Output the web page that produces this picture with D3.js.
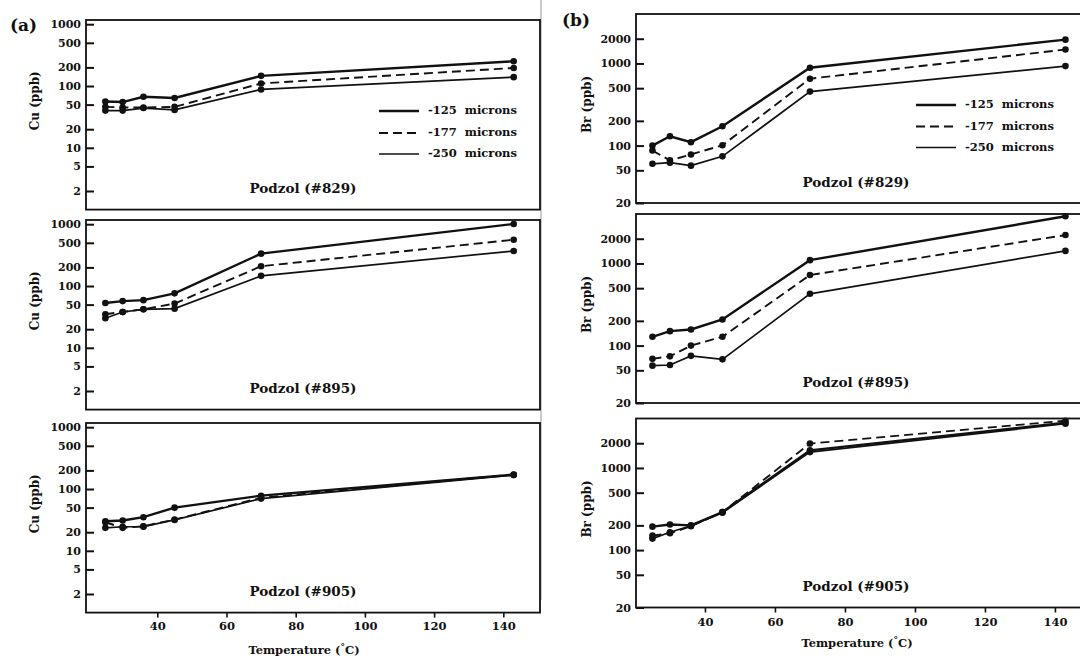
<!doctype html>
<html lang="en">
<head>
<meta charset="utf-8">
<title>Cu and Br vs temperature</title>
<script src="https://cdn.jsdelivr.net/npm/d3@7"></script>
<style>
  body { margin: 0; background: #fff; }
  svg text { font-family: "DejaVu Serif", serif; font-weight: bold; fill: #111; }
</style>
</head>
<body>
<svg id="chart" width="1080" height="658"></svg>
<script>
// heating steps (deg C)
var temps = [25, 30, 36, 45, 70, 143];
var sizes = ["-125\u00a0 microns", "-177\u00a0 microns", "-250\u00a0 microns"];
var soils = ["Podzol (#829)", "Podzol (#895)", "Podzol (#905)"];

// Cu (ppb), one array per size fraction
var cu829_125 = [56, 55, 67, 64, 146, 251];
var cu829_177 = [46, 45, 45, 46, 110, 196];
var cu829_250 = [40, 40, 44, 41, 88, 139];
var cu895_125 = [53, 57, 59, 76, 334, 1010];
var cu895_177 = [35, 38, 42, 52, 209, 561];
var cu895_250 = [30, 38, 42, 43, 146, 369];
var cu905_125 = [30, 31, 35, 50, 78, 170];
var cu905_177 = [29, 23.5, 25, 32, 72, 172];
var cu905_250 = [23.5, 24.5, 24.6, 31.6, 70, 168];

// Br (ppb)
var br829_125 = [100, 130, 110, 172, 886, 1950];
var br829_177 = [87, 66, 78, 101, 652, 1477];
var br829_250 = [60, 62, 57, 74, 454, 928];
var br895_125 = [128, 150, 157, 208, 1097, 3750];
var br895_177 = [69, 74, 100, 128, 723, 2216];
var br895_250 = [57, 58, 75, 68, 427, 1421];
var br905_125 = [193, 205, 200, 290, 1640, 3550];
var br905_177 = [150, 160, 195, 290, 1980, 3760];
var br905_250 = [138, 165, 198, 285, 1560, 3450];

var cuTicks = [1000, 500, 200, 100, 50, 20, 10, 5, 2];
var brTicks = [2000, 1000, 500, 200, 100, 50, 20];
var tempTicks = [40, 60, 80, 100, 120, 140];

var svg = d3.select("#chart");

// faint page edge from the scan
svg.append("line")
    .attr("x1", 541).attr("x2", 541).attr("y1", 0).attr("y2", 600)
    .attr("stroke", "#bbb").attr("stroke-width", 1.5);

var columns = [
  {
    letter: "(a)", letterX: 10, letterY: 26,
    yTitle: "Cu (ppb)", yTitleX: 35, yTitleShift: -14,
    series: [[cu829_125, cu829_177, cu829_250], [cu895_125, cu895_177, cu895_250], [cu905_125, cu905_177, cu905_250]],
    ticks: cuTicks, yDomain: [1, 1170],
    xDomain: [19.4, 150.6], left: 86, right: 540,
    tops: [20, 220, 423], height: 189.6,
    legend: {x: 379, ys: [111, 133, 154]},
    labelX: 303, xTitleY: 651, xPad: 4
  },
  {
    letter: "(b)", letterX: 562, letterY: 21,
    yTitle: "Br (ppb)", yTitleX: 587, yTitleShift: -4,
    series: [[br829_125, br829_177, br829_250], [br895_125, br895_177, br895_250], [br905_125, br905_177, br905_250]],
    ticks: brTicks, yDomain: [20, 4000],
    xDomain: [20.3, 148.3], left: 636, right: 1084,
    tops: [14, 214, 418.5], height: 189,
    legend: {x: 916, ys: [105, 126.5, 147.5]},
    labelX: 856, xTitleY: 644, xPad: 5
  }
];

var widths = [2.4, 1.9, 1.7];
var dashes = [null, "9,5", null];

columns.forEach(function(col) {
  var x = d3.scaleLinear().domain(col.xDomain).range([col.left, col.right]);

  svg.append("text")
      .attr("x", col.letterX).attr("y", col.letterY)
      .attr("dominant-baseline", "middle")
      .style("font-size", "17px")
      .text(col.letter);

  col.tops.forEach(function(top, p) {
    var y = d3.scaleLog().domain(col.yDomain).range([top + col.height, top]);

    var yAxis = svg.append("g")
        .attr("transform", "translate(" + col.left + ",0)")
        .call(d3.axisLeft(y).tickValues(col.ticks).tickFormat(d3.format("d")).tickSize(-8).tickPadding(5));
    yAxis.select(".domain").remove();
    yAxis.selectAll(".tick line").attr("stroke", "#111").attr("stroke-width", 2);
    yAxis.selectAll("text").style("font-size", "11px").style("font-family", null).attr("fill", "#111");

    if (p == 2) {
      var xAxis = svg.append("g")
          .attr("transform", "translate(0," + (top + col.height) + ")")
          .call(d3.axisBottom(x).tickValues(tempTicks).tickSize(5).tickPadding(col.xPad));
      xAxis.select(".domain").remove();
      xAxis.selectAll(".tick line").attr("stroke", "#111").attr("stroke-width", 1.6);
      xAxis.selectAll("text").style("font-size", "11.5px").style("font-family", null).attr("fill", "#111");
    }

    svg.append("rect")
        .attr("x", col.left).attr("y", top)
        .attr("width", col.right - col.left).attr("height", col.height)
        .attr("fill", "none").attr("stroke", "#111").attr("stroke-width", 1.8);

    var line = d3.line()
        .x(function(d, i) { return x(temps[i]); })
        .y(function(d) { return y(d); });

    col.series[p].forEach(function(vals, s) {
      svg.append("path")
          .datum(vals)
          .attr("d", line)
          .attr("fill", "none")
          .attr("stroke", "#111")
          .attr("stroke-width", widths[s])
          .attr("stroke-dasharray", dashes[s]);
      svg.append("g").selectAll("circle")
          .data(vals)
          .join("circle")
          .attr("cx", function(d, i) { return x(temps[i]); })
          .attr("cy", function(d) { return y(d); })
          .attr("r", 3.3)
          .attr("fill", "#111");
    });

    svg.append("text")
        .attr("x", col.labelX).attr("y", top + col.height - 20)
        .attr("text-anchor", "middle").attr("dominant-baseline", "middle")
        .style("font-size", "13.5px")
        .text(soils[p]);

    svg.append("text")
        .attr("transform", "translate(" + col.yTitleX + "," + (top + col.height / 2 + col.yTitleShift) + ") rotate(-90)")
        .attr("text-anchor", "middle").attr("dominant-baseline", "middle")
        .style("font-size", "12px")
        .text(col.yTitle);

    // legend only in the top panel
    if (p == 0) {
      sizes.forEach(function(name, s) {
        var ly = col.legend.ys[s];
        svg.append("line")
            .attr("x1", col.legend.x).attr("x2", col.legend.x + 40)
            .attr("y1", ly).attr("y2", ly)
            .attr("stroke", "#111").attr("stroke-width", widths[s])
            .attr("stroke-dasharray", dashes[s]);
        svg.append("text")
            .attr("x", col.legend.x + 49).attr("y", ly)
            .attr("dominant-baseline", "middle")
            .style("font-size", "11.5px")
            .text(name);
      });
    }
  });

  var xt = svg.append("text")
      .attr("x", col.labelX + 1).attr("y", col.xTitleY)
      .attr("text-anchor", "middle").attr("dominant-baseline", "middle")
      .style("font-size", "11.5px");
  xt.append("tspan").text("Temperature (");
  xt.append("tspan").attr("dy", -4).style("font-size", "9px").text("\u00b0");
  xt.append("tspan").attr("dy", 4).text("C)");
});
</script>
</body>
</html>
